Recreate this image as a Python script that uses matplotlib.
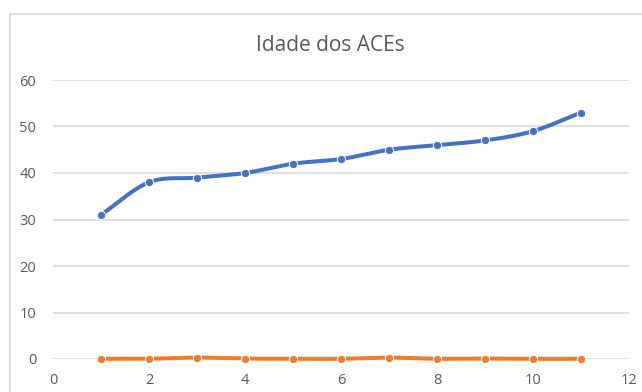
import numpy as np
import matplotlib
matplotlib.use("Agg")
import matplotlib.pyplot as plt
from matplotlib.lines import Line2D

plt.rcParams["font.family"] = ["Open Sans", "DejaVu Sans"]

# ages of the agents, one point per agent
x = [1, 2, 3, 4, 5, 6, 7, 8, 9, 10, 11]
idade = [31, 38, 39, 40, 42, 43, 45, 46, 47, 49, 53]
outro = [0.05, 0.05, 0.3, 0.1, 0.05, 0.05, 0.3, 0.05, 0.1, 0.05, 0.05]

title = "Idade dos ACEs"
xticks = [0, 2, 4, 6, 8, 10, 12]
yticks = [0, 10, 20, 30, 40, 50, 60]

BLUE = "#4472C4"
ORANGE = "#ED7D31"
GRID = "#D9D9D9"
TEXT = "#595959"


def smooth(xs, ys, n=30):
    # Catmull-Rom through the points, like a spreadsheet "smoothed line"
    xs = np.asarray(xs, float)
    ys = np.asarray(ys, float)
    px = np.concatenate([[2 * xs[0] - xs[1]], xs, [2 * xs[-1] - xs[-2]]])
    py = np.concatenate([[2 * ys[0] - ys[1]], ys, [2 * ys[-1] - ys[-2]]])
    outx, outy = [], []
    t = np.linspace(0, 1, n)
    for i in range(1, len(px) - 2):
        for p, out in ((px, outx), (py, outy)):
            p0, p1, p2, p3 = p[i - 1], p[i], p[i + 1], p[i + 2]
            out.extend(0.5 * ((2 * p1) + (-p0 + p2) * t
                              + (2 * p0 - 5 * p1 + 4 * p2 - p3) * t ** 2
                              + (-p0 + 3 * p1 - 3 * p2 + p3) * t ** 3))
    return outx, outy


fig = plt.figure(figsize=(6.42, 3.92), dpi=100)
ax = fig.add_axes([53 / 642, 1 - 359 / 392, 576 / 642, 279 / 392])

for ys, c in ((idade, BLUE), (outro, ORANGE)):
    sx, sy = smooth(x, ys)
    ax.plot(sx, sy, color=c, lw=2.9, solid_capstyle="round", zorder=3)
    ax.plot(x, ys, "o", color=c, ms=6, mec="white", mew=0.7, zorder=4)

ax.set_xlim(0, 12)
ax.set_ylim(0, 60)
ax.set_xticks(xticks)
ax.set_yticks(yticks)
ax.tick_params(length=0, labelsize=10.5, labelcolor=TEXT)
ax.tick_params(axis="x", pad=10)
ax.tick_params(axis="y", pad=12)
ax.grid(axis="y", color=GRID, lw=1.2)
ax.set_axisbelow(True)
for s in ax.spines.values():
    s.set_visible(False)
for line in ax.lines:
    line.set_clip_on(False)

fig.text(0.514, 0.885, title, ha="center", va="center", fontsize=15, color=TEXT)

# chart area border (top and left edges)
fig.add_artist(Line2D([10 / 642, 1], [1 - 14 / 392, 1 - 14 / 392], color=GRID, lw=1.2))
fig.add_artist(Line2D([10 / 642, 10 / 642], [0, 1 - 14 / 392], color=GRID, lw=1.2))

fig.savefig("out.png", dpi=100, facecolor="white")
